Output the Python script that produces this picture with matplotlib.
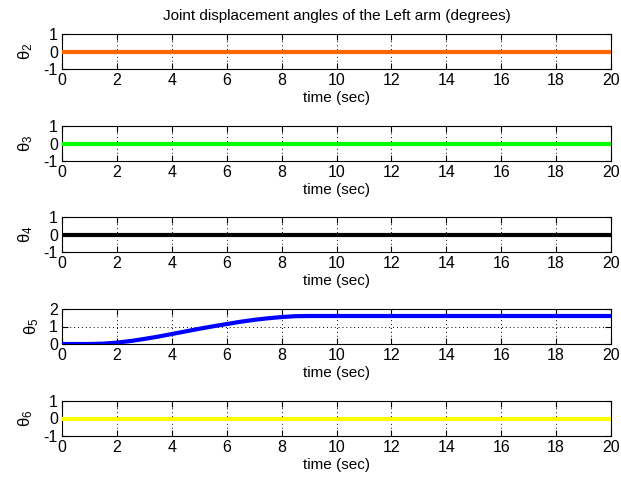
import matplotlib.pyplot as plt

plt.rcParams['font.family'] = ['Liberation Sans', 'DejaVu Sans']
plt.rcParams['mathtext.fontset'] = 'custom'
plt.rcParams['mathtext.rm'] = 'Liberation Sans'
plt.rcParams['mathtext.it'] = 'Liberation Sans'
plt.rcParams['axes.unicode_minus'] = False

# Joint angles of the left arm over the simulation
time = [0, 0.5, 1, 1.5, 2, 2.5, 3, 3.5, 4, 4.5, 5, 5.5, 6, 6.5, 7, 7.5, 8, 8.5, 9, 20]
theta2 = [0] * len(time)
theta3 = [0] * len(time)
theta4 = [0] * len(time)
theta5 = [0, 0, 0, 0.02, 0.08, 0.17, 0.29, 0.42, 0.57, 0.72, 0.87, 1.01, 1.14,
          1.27, 1.38, 1.47, 1.54, 1.59, 1.6, 1.6]
theta6 = [0] * len(time)

joints = [theta2, theta3, theta4, theta5, theta6]
labels = [r'$\theta_2$', r'$\theta_3$', r'$\theta_4$', r'$\theta_5$', r'$\theta_6$']
colors = ['#FF6600', '#00FF00', '#000000', '#0000FF', '#FFFF00']
ylims = [(-1, 1), (-1, 1), (-1, 1), (0, 2), (-1, 1)]
yticks = [[-1, 0, 1], [-1, 0, 1], [-1, 0, 1], [0, 1, 2], [-1, 0, 1]]
xticks = list(range(0, 21, 2))

fig = plt.figure(figsize=(6.21, 4.82), dpi=100)
left = 62 / 621
width = (611 - 62) / 621
tops = [34, 126, 217, 309, 401]
h = 35

for i in range(5):
    ax = fig.add_axes([left, 1 - (tops[i] + h) / 482, width, h / 482])
    ax.plot(time, joints[i], color=colors[i], lw=3, zorder=3)
    ax.set_xlim(0, 20)
    ax.set_ylim(*ylims[i])
    ax.set_xticks(xticks)
    ax.set_yticks(yticks[i])
    ax.grid(True, color='black', linestyle=(0, (1, 3)), linewidth=0.7)
    ax.tick_params(direction='in', top=True, right=True, labelsize=11.5,
                   length=4, width=0.8, pad=3)
    for s in ax.spines.values():
        s.set_linewidth(0.8)
    ax.set_xlabel('time (sec)', fontsize=11, labelpad=2)
    ax.set_ylabel(labels[i], fontsize=12, labelpad=6)
    if i == 0:
        ax.set_title('Joint displacement angles of the Left arm (degrees)',
                     fontsize=11, pad=10)

fig.savefig('out.png', dpi=100)
